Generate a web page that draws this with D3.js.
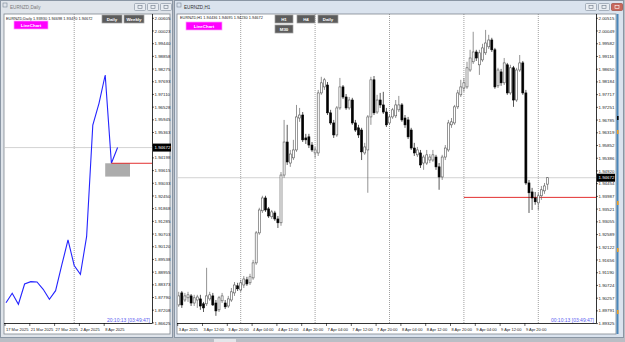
<!DOCTYPE html>
<meta charset="utf-8">
<head>
  <style>
    body { margin: 0; background: #b9bec5; }
    svg { display: block; font-family: "Liberation Sans", Arial, sans-serif; }
  </style>
</head>
<body>
<script src="https://cdn.jsdelivr.net/npm/d3@7"></script>
<script>
// ---- daily line chart (left window) ----
var dailyDates = ["17 Mar 2025", "18 Mar 2025", "19 Mar 2025", "20 Mar 2025", "21 Mar 2025",
  "24 Mar 2025", "25 Mar 2025", "26 Mar 2025", "27 Mar 2025", "28 Mar 2025", "31 Mar 2025",
  "1 Apr 2025", "2 Apr 2025", "3 Apr 2025", "4 Apr 2025", "7 Apr 2025", "8 Apr 2025",
  "9 Apr 2025", "10 Apr 2025"];
var dailyClose = [1.87553, 1.87985, 1.87480, 1.88411, 1.88517, 1.88505, 1.88168, 1.87709,
  1.88104, 1.89283, 1.90431, 1.89260, 1.88857, 1.90582, 1.95708, 1.96704, 1.98003,
  1.93951, 1.94672];
var dailyTimeTicks = ["17 Mar 2025", "21 Mar 2025", "27 Mar 2025", "2 Apr 2025", "8 Apr 2025"];
var dailyPriceTicks = ["2.00605", "2.00023", "1.99440", "1.98858", "1.98275", "1.97693", "1.97110",
  "1.96528", "1.95945", "1.95363", "1.94780", "1.94198", "1.93615", "1.93033", "1.92450",
  "1.91868", "1.91285", "1.90703", "1.90120", "1.89538", "1.88955", "1.88373", "1.87790",
  "1.87208", "1.86625"];
var todayOHLC = [1.93930, 1.94698, 1.93470, 1.94672];

// ---- H1 candles (right window), 3 Apr 04:00 .. 10 Apr 03:00 ----
var h1Days = ["3 Apr", "4 Apr", "7 Apr", "8 Apr", "9 Apr", "10 Apr"];
var h1Open = [1.9001, 1.9045, 1.9019, 1.9027, 1.9034, 1.9008, 1.9019, 1.9023, 1.9005, 1.9005,
  1.9023, 1.9034, 1.9008, 1.8983, 1.9016, 1.9008, 1.8997, 1.9019, 1.9045, 1.9071,
  1.9056, 1.9074, 1.9093, 1.9082, 1.9100, 1.9155, 1.9265, 1.9346, 1.9393, 1.9353,
  1.9324, 1.9338, 1.9316, 1.9302, 1.9477, 1.9598, 1.9521, 1.9540, 1.9569, 1.9686,
  1.9697, 1.9613, 1.9617, 1.9587, 1.9558, 1.9558, 1.9778, 1.9800, 1.9807, 1.9705,
  1.9668, 1.9624, 1.9723, 1.9800, 1.9763, 1.9723, 1.9752, 1.9668, 1.9650, 1.9642,
  1.9558, 1.9569, 1.9690, 1.9826, 1.9708, 1.9752, 1.9734, 1.9708, 1.9668, 1.9690,
  1.9694, 1.9716, 1.9734, 1.9686, 1.9679, 1.9642, 1.9576, 1.9551, 1.9558, 1.9521,
  1.9521, 1.9532, 1.9532, 1.9543, 1.9507, 1.9470, 1.9543, 1.9569, 1.9661, 1.9668,
  1.9727, 1.9771, 1.9796, 1.9800, 1.9862, 1.9892, 1.9928, 1.9881, 1.9899, 1.9925,
  1.9947, 1.9972, 1.9936, 1.9804, 1.9855, 1.9815, 1.9881, 1.9778, 1.9870, 1.9752,
  1.9862, 1.9888, 1.9778, 1.9448, 1.9415, 1.9393, 1.9375, 1.9401, 1.9419, 1.94436];
var h1High = [1.9049, 1.9052, 1.9045, 1.9049, 1.9041, 1.9038, 1.9038, 1.9038, 1.9012, 1.9137,
  1.9049, 1.9045, 1.9019, 1.9034, 1.9045, 1.9019, 1.9034, 1.9063, 1.9085, 1.9082,
  1.9093, 1.9107, 1.9104, 1.9115, 1.9166, 1.9272, 1.9357, 1.9401, 1.9401, 1.9360,
  1.9349, 1.9346, 1.9327, 1.9488, 1.9679, 1.9661, 1.9569, 1.9606, 1.9734, 1.9723,
  1.9708, 1.9628, 1.9628, 1.9598, 1.9580, 1.9789, 1.9837, 1.9833, 1.9818, 1.9716,
  1.9679, 1.9730, 1.9833, 1.9807, 1.9774, 1.9763, 1.9760, 1.9679, 1.9661, 1.9650,
  1.9595, 1.9697, 1.9837, 1.9840, 1.9771, 1.9778, 1.9782, 1.9723, 1.9697, 1.9723,
  1.9752, 1.9767, 1.9741, 1.9697, 1.9690, 1.9650, 1.9595, 1.9580, 1.9569, 1.9551,
  1.9569, 1.9554, 1.9569, 1.9551, 1.9521, 1.9551, 1.9587, 1.9679, 1.9686, 1.9734,
  1.9789, 1.9826, 1.9833, 1.9892, 1.9936, 2.0002, 1.9936, 1.9936, 1.9958, 2.0009,
  1.9991, 1.9980, 1.9943, 1.9870, 1.9866, 1.9906, 1.9888, 1.9881, 1.9877, 1.9870,
  1.9917, 1.9895, 1.9789, 1.9459, 1.9430, 1.9415, 1.9412, 1.9437, 1.9448, 1.94695];
var h1Low = [1.8994, 1.8990, 1.9012, 1.9012, 1.8997, 1.8997, 1.8990, 1.8983, 1.8975, 1.8997,
  1.9016, 1.8997, 1.8961, 1.8975, 1.9008, 1.8986, 1.8990, 1.9012, 1.9034, 1.9052,
  1.9049, 1.9063, 1.9071, 1.9074, 1.9093, 1.9148, 1.9258, 1.9338, 1.9342, 1.9320,
  1.9316, 1.9309, 1.9283, 1.9291, 1.9467, 1.9514, 1.9507, 1.9532, 1.9562, 1.9672,
  1.9598, 1.9591, 1.9576, 1.9562, 1.9540, 1.9547, 1.9771, 1.9789, 1.9697, 1.9661,
  1.9613, 1.9617, 1.9716, 1.9756, 1.9716, 1.9716, 1.9661, 1.9635, 1.9613, 1.9532,
  1.9551, 1.9412, 1.9661, 1.9697, 1.9701, 1.9723, 1.9701, 1.9653, 1.9661, 1.9683,
  1.9686, 1.9708, 1.9672, 1.9650, 1.9609, 1.9569, 1.9547, 1.9543, 1.9503, 1.9496,
  1.9514, 1.9521, 1.9525, 1.9496, 1.9423, 1.9459, 1.9532, 1.9562, 1.9650, 1.9661,
  1.9719, 1.9763, 1.9782, 1.9793, 1.9855, 1.9884, 1.9895, 1.9844, 1.9892, 1.9917,
  1.9939, 1.9928, 1.9793, 1.9796, 1.9804, 1.9807, 1.9771, 1.9771, 1.9727, 1.9745,
  1.9855, 1.9771, 1.9441, 1.9338, 1.9349, 1.9368, 1.9349, 1.9386, 1.9408, 1.94230];
var h1Close = [1.9034, 1.9001, 1.9034, 1.9038, 1.9008, 1.9027, 1.9030, 1.8997, 1.8990, 1.9034,
  1.9038, 1.9001, 1.8979, 1.9027, 1.9034, 1.8994, 1.9023, 1.9049, 1.9074, 1.9060,
  1.9082, 1.9096, 1.9078, 1.9104, 1.9155, 1.9265, 1.9349, 1.9393, 1.9349, 1.9327,
  1.9342, 1.9316, 1.9302, 1.9477, 1.9598, 1.9525, 1.9554, 1.9569, 1.9690, 1.9697,
  1.9606, 1.9606, 1.9587, 1.9569, 1.9569, 1.9778, 1.9815, 1.9826, 1.9705, 1.9668,
  1.9624, 1.9723, 1.9800, 1.9763, 1.9723, 1.9752, 1.9668, 1.9642, 1.9624, 1.9562,
  1.9580, 1.9690, 1.9826, 1.9705, 1.9752, 1.9734, 1.9708, 1.9661, 1.9690, 1.9716,
  1.9734, 1.9734, 1.9679, 1.9661, 1.9617, 1.9576, 1.9558, 1.9569, 1.9514, 1.9543,
  1.9551, 1.9543, 1.9551, 1.9507, 1.9470, 1.9543, 1.9576, 1.9668, 1.9672, 1.9727,
  1.9778, 1.9800, 1.9815, 1.9870, 1.9906, 1.9928, 1.9906, 1.9925, 1.9943, 1.9961,
  1.9972, 1.9936, 1.9800, 1.9862, 1.9815, 1.9888, 1.9778, 1.9870, 1.9752, 1.9862,
  1.9888, 1.9778, 1.9448, 1.9412, 1.9393, 1.9379, 1.9401, 1.9423, 1.9437, 1.94672];
var h1TimeTicks = ["3 Apr 2025", "3 Apr 12:00", "3 Apr 20:00", "4 Apr 04:00", "4 Apr 12:00",
  "4 Apr 20:00", "7 Apr 04:00", "7 Apr 12:00", "7 Apr 20:00", "8 Apr 04:00", "8 Apr 12:00",
  "8 Apr 20:00", "9 Apr 04:00", "9 Apr 12:00", "9 Apr 20:00"];
var h1PriceTicks = ["2.00515", "2.00049", "1.99582", "1.99116", "1.98650", "1.98184", "1.97717",
  "1.97251", "1.96785", "1.96319", "1.95852", "1.95386", "1.94920", "1.94454", "1.93987",
  "1.93521", "1.93055", "1.92589", "1.92122", "1.91656", "1.91190", "1.90724", "1.90257",
  "1.89791", "1.89325"];

var bid = 1.94672;
var prevClose = 1.93951;       // close of 9 Apr, red line
var boxLow = 1.93340;          // grey box under the red line on the daily chart

// hourly categories from the day list (first day starts 04:00, last ends 03:00)
var h1Times = [];
h1Days.forEach(function(d, k) {
  var h0 = k === 0 ? 4 : 0, h1 = k === h1Days.length - 1 ? 3 : 23;
  for (var h = h0; h <= h1; h++) h1Times.push(d + " " + (h < 10 ? "0" : "") + h + ":00");
});
h1Times[0] = "3 Apr 2025";

var fmt = d3.format(".5f");

var svg = d3.select("body").append("svg")
    .attr("width", 625)
    .attr("height", 342);

svg.append("rect").attr("width", 625).attr("height", 342).attr("fill", "#b9bec5");
svg.append("rect").attr("x", 214).attr("y", 339).attr("width", 22).attr("height", 3).attr("fill", "#e4e6ea");

// window frame + title bar
function drawWindow(x, w, title, active) {
  var g = svg.append("g");
  g.append("rect").attr("x", x + 0.5).attr("y", 0.5).attr("width", w - 1).attr("height", 337)
    .attr("fill", active ? "#dae3ee" : "#dfe4ea").attr("stroke", "#8a96a4");
  g.append("rect").attr("x", x + 3).attr("y", 3).attr("width", 4).attr("height", 4)
    .attr("fill", "none").attr("stroke", "#7b8796").attr("stroke-width", 0.6);
  g.append("text").attr("x", x + 10).attr("y", 8.5)
    .attr("font-size", 4.6).attr("fill", active ? "#333" : "#7a7a7a").text(title);
  var bx = [w - 39, w - 26, w - 13];
  bx.forEach(function(b, i) {
    g.append("rect").attr("x", x + b + 0.5).attr("y", 3.5).attr("width", 11).attr("height", 7)
      .attr("rx", 1)
      .attr("fill", active && i === 2 ? "#c9685c" : "#e9edf2")
      .attr("stroke", active && i === 2 ? "#9d4a40" : "#8d98a6").attr("stroke-width", 0.7);
    g.append("rect").attr("x", x + b + 4).attr("y", 5.5).attr("width", 4).attr("height", 3)
      .attr("fill", "none").attr("stroke", active && i === 2 ? "#fff" : "#6f7a88")
      .attr("stroke-width", 0.6);
  });
  return g;
}

drawWindow(0, 173, "EURNZD,Daily", false);
drawWindow(174, 450, "EURNZD,H1", true);

// generic chart panel: client area, axes, price labels (the ones under the bid box are hidden)
function panel(p, yScale, priceTicks) {
  var g = svg.append("g");
  g.append("rect").attr("x", p.x0).attr("y", p.y0).attr("width", p.x1 - p.x0).attr("height", p.y1 - p.y0)
    .attr("fill", "#fff").attr("stroke", "#7f8790").attr("stroke-width", 0.8);
  g.append("line").attr("x1", p.axisX + 0.5).attr("x2", p.axisX + 0.5)
    .attr("y1", p.y0).attr("y2", p.axisY).attr("stroke", "#000").attr("stroke-width", 0.8);
  g.append("line").attr("x1", p.x0).attr("x2", p.axisX + 0.5)
    .attr("y1", p.axisY + 0.5).attr("y2", p.axisY + 0.5).attr("stroke", "#000").attr("stroke-width", 0.8);
  var yb = yScale(bid);
  priceTicks.forEach(function(t) {
    var y = yScale(+t);
    g.append("line").attr("x1", p.axisX).attr("x2", p.axisX + 2).attr("y1", y).attr("y2", y)
      .attr("stroke", "#000").attr("stroke-width", 0.6);
    if (Math.abs(y - yb) < 5.5) return;
    g.append("text").attr("x", p.axisX + 2.5).attr("y", y + 1.6)
      .attr("font-size", 4.4).attr("fill", "#222").text(t);
  });
  return g;
}

function button(x, y, w, h, label, fill) {
  svg.append("rect").attr("x", x).attr("y", y).attr("width", w).attr("height", h)
    .attr("fill", fill).attr("stroke", fill === "#ff00ff" ? "#ff9cff" : "#a0a0a0").attr("stroke-width", 0.7);
  svg.append("text").attr("x", x + w / 2).attr("y", y + h / 2 + 1.6).attr("text-anchor", "middle")
    .attr("font-size", 4.4).attr("font-weight", "bold").attr("fill", "#fff").text(label);
}

function bidBox(p, y) {
  svg.append("rect").attr("x", p.axisX + 1).attr("y", y - 4).attr("width", 18).attr("height", 8).attr("fill", "#000");
  svg.append("text").attr("x", p.axisX + 2.5).attr("y", y + 1.6).attr("font-size", 4.4)
    .attr("fill", "#fff").text(fmt(bid));
}

// ================= LEFT: daily line chart =================
var L = {x0: 4, x1: 170, y0: 14, y1: 334, axisX: 152, axisY: 323};
var yL = d3.scaleLinear().domain([1.86625, 2.00605]).range([322.9, 18.3]);
var xL = d3.scaleLinear().domain([0, dailyDates.length - 1]).range([6, 6 + 18 * 6.2]);

panel(L, yL, dailyPriceTicks);

var gL = svg.append("g");
// monthly separator at 1 Apr
var sepL = dailyDates.indexOf("1 Apr 2025");
gL.append("line").attr("x1", xL(sepL)).attr("x2", xL(sepL)).attr("y1", L.y0).attr("y2", L.axisY)
  .attr("stroke", "#777").attr("stroke-width", 0.7).attr("stroke-dasharray", "1,1");
gL.append("line").attr("x1", L.x0).attr("x2", L.axisX).attr("y1", yL(bid)).attr("y2", yL(bid))
  .attr("stroke", "#c8c8c8").attr("stroke-width", 0.8);

gL.append("path").datum(dailyClose)
  .attr("d", d3.line().x(function(d, i) { return xL(i); }).y(function(d) { return yL(d); }))
  .attr("fill", "none").attr("stroke", "#2424ff").attr("stroke-width", 1.1);

var i9 = dailyDates.indexOf("9 Apr 2025");
gL.append("rect").attr("x", xL(i9 - 1)).attr("y", yL(prevClose))
  .attr("width", xL(i9 + 3) - xL(i9 - 1)).attr("height", yL(boxLow) - yL(prevClose)).attr("fill", "#acacac");
gL.append("line").attr("x1", xL(i9)).attr("x2", L.axisX).attr("y1", yL(prevClose)).attr("y2", yL(prevClose))
  .attr("stroke", "#e01818").attr("stroke-width", 0.9);

dailyTimeTicks.forEach(function(t) {
  var x = xL(dailyDates.indexOf(t));
  gL.append("line").attr("x1", x - 1).attr("x2", x - 1).attr("y1", L.axisY).attr("y2", L.axisY + 3)
    .attr("stroke", "#000").attr("stroke-width", 0.6);
  gL.append("text").attr("x", x).attr("y", 330.5).attr("font-size", 4).attr("fill", "#222").text(t);
});

bidBox(L, yL(bid));
gL.append("text").attr("x", 6).attr("y", 19.5).attr("font-size", 3.9).attr("fill", "#222")
  .text("EURNZD,Daily  " + todayOHLC.map(fmt).join(" "));
button(14, 21, 34, 8, "LineChart", "#ff00ff");
button(102, 15, 20, 8, "Daily", "#5c5c5c");
button(124, 15, 20, 8, "Weekly", "#5c5c5c");
gL.append("text").attr("x", 150).attr("y", 321.5).attr("text-anchor", "end")
  .attr("font-size", 5).attr("fill", "#5a5af0").text("20:10:13 [03:49:47]");

// ================= RIGHT: H1 candles =================
var R = {x0: 177, x1: 616, y0: 14, y1: 334, axisX: 596, axisY: 323};
var yR = d3.scaleLinear().domain([1.89325, 2.00515]).range([323.6, 18.3]);
var xR = d3.scaleLinear().domain([0, h1Times.length - 1]).range([178.7, 178.7 + 119 * 3.1]);

panel(R, yR, h1PriceTicks);

svg.append("clipPath").attr("id", "clipR").append("rect")
  .attr("x", R.x0 + 0.5).attr("y", R.y0).attr("width", R.axisX - R.x0 - 0.5).attr("height", R.axisY - R.y0);
var gR = svg.append("g").attr("clip-path", "url(#clipR)");

// daily separators
h1Times.forEach(function(t, i) {
  if (/ 00:00$/.test(t)) {
    gR.append("line").attr("x1", xR(i)).attr("x2", xR(i)).attr("y1", R.y0).attr("y2", R.axisY)
      .attr("stroke", "#777").attr("stroke-width", 0.7).attr("stroke-dasharray", "1,1");
  }
});
gR.append("line").attr("x1", R.x0).attr("x2", R.axisX).attr("y1", yR(bid)).attr("y2", yR(bid))
  .attr("stroke", "#c8c8c8").attr("stroke-width", 0.8);
var i9h = h1Times.indexOf("9 Apr 00:00");
gR.append("line").attr("x1", xR(i9h)).attr("x2", R.axisX).attr("y1", yR(prevClose)).attr("y2", yR(prevClose))
  .attr("stroke", "#e01818").attr("stroke-width", 0.9);

var candles = gR.selectAll("g.c").data(h1Close).enter().append("g").attr("class", "c");
candles.append("line")
  .attr("x1", function(d, i) { return xR(i); }).attr("x2", function(d, i) { return xR(i); })
  .attr("y1", function(d, i) { return yR(h1High[i]); }).attr("y2", function(d, i) { return yR(h1Low[i]); })
  .attr("stroke", function(d, i) { return d >= h1Open[i] ? "#666" : "#111"; }).attr("stroke-width", 0.7);
candles.append("rect")
  .attr("x", function(d, i) { return xR(i) - 1; }).attr("width", 2)
  .attr("y", function(d, i) { return yR(Math.max(d, h1Open[i])); })
  .attr("height", function(d, i) { return Math.max(0.8, Math.abs(yR(d) - yR(h1Open[i]))); })
  .attr("fill", function(d, i) { return d >= h1Open[i] ? "#fff" : "#000"; })
  .attr("stroke", function(d, i) { return d >= h1Open[i] ? "#555" : "#000"; }).attr("stroke-width", 0.6);

h1TimeTicks.forEach(function(t) {
  var x = xR(h1Times.indexOf(t));
  svg.append("line").attr("x1", x - 1).attr("x2", x - 1).attr("y1", R.axisY).attr("y2", R.axisY + 3)
    .attr("stroke", "#000").attr("stroke-width", 0.6);
  svg.append("text").attr("x", x).attr("y", 330.5).attr("font-size", 4).attr("fill", "#222").text(t);
});

bidBox(R, yR(bid));
var last = h1Close.length - 1;
svg.append("text").attr("x", 180).attr("y", 19).attr("font-size", 3.9).attr("fill", "#222")
  .text("EURNZD,H1  " + [h1Open[last], h1High[last], h1Low[last], h1Close[last]].map(fmt).join(" "));
button(186, 22, 36, 8, "LineChart", "#ff00ff");
button(275, 15, 18, 8, "H1", "#5c5c5c");
button(297, 15, 18, 8, "H4", "#5c5c5c");
button(318, 15, 20, 8, "Daily", "#5c5c5c");
button(275, 25, 18, 8, "M30", "#5c5c5c");
svg.append("text").attr("x", 594).attr("y", 321.5).attr("text-anchor", "end")
  .attr("font-size", 5).attr("fill", "#5a5af0").text("00:10:13 [03:49:47]");

// right edge strip with markers
svg.append("rect").attr("x", 616.5).attr("y", 14).attr("width", 2).attr("height", 320).attr("fill", "#4a86b8");
[{y: 118, c: "#000"}, {y: 132, c: "#f0a020"}, {y: 203, c: "#f0a020"}, {y: 250, c: "#f0a020"}, {y: 312, c: "#f0a020"}]
  .forEach(function(m) {
    svg.append("rect").attr("x", 617).attr("y", m.y - 2).attr("width", 1.6).attr("height", 4).attr("fill", m.c);
  });
</script>
</body>
